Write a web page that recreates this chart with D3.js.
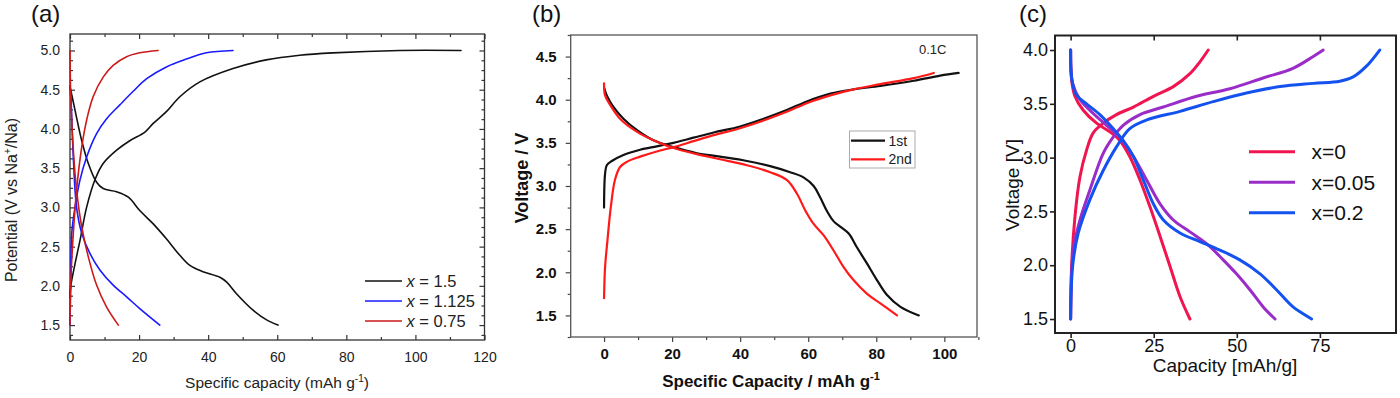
<!DOCTYPE html>
<html>
<head>
<meta charset="utf-8">
<script src="https://cdn.jsdelivr.net/npm/d3@7"></script>
<style>
  body { margin: 0; background: #fff; }
  text { font-family: Arial, "Liberation Sans", sans-serif; }
</style>
</head>
<body>
<script>
// ---- panel (a) data: [capacity mAh/g, potential V] ----
var aLabels = ["1.5", "1.125", "0.75"];
var aColors = ["#111111", "#1a1aff", "#cc1a1a"];
var aCharge15 = [[0,1.85],[0.2,1.99],[1.45,2.28],[2.9,2.58],[4.8,3.0],[7.2,3.35],[9.6,3.56],[13.5,3.73],[17.3,3.85],[21.7,3.96],[24.1,4.07],[27.9,4.22],[31.8,4.41],[37.6,4.6],[47.2,4.77],[56.8,4.88],[66.5,4.94],[76.1,4.97],[95.4,5.0],[113.2,5.0]];
var aDisch15 = [[0.1,4.52],[1.45,4.24],[3.4,3.85],[5.3,3.56],[7.7,3.32],[9.6,3.24],[13.5,3.2],[16.9,3.13],[20.2,2.96],[24.1,2.79],[27.9,2.6],[31.8,2.39],[34.7,2.26],[38.5,2.18],[43.4,2.11],[45.3,2.05],[48.2,1.9],[53,1.69],[56.8,1.57],[60.2,1.5]];
var aCharge1125 = [[0,1.5],[0.2,2.03],[0.5,2.67],[1.45,3.0],[2.9,3.35],[4.8,3.64],[7.7,3.94],[10.6,4.13],[14.5,4.31],[18.3,4.48],[22.2,4.64],[27.9,4.79],[33.7,4.89],[39.5,4.97],[47.2,5.0]];
var aDisch1125 = [[0,4.55],[0.3,4.36],[0.96,3.64],[1.9,3.0],[3.4,2.67],[5.8,2.41],[8.7,2.2],[12.5,2.01],[16.4,1.86],[20.2,1.71],[26,1.5]];
var aCharge075 = [[0,1.5],[0.2,2.03],[0.96,2.67],[1.9,3.22],[3.4,3.77],[4.8,4.11],[6.7,4.41],[9.6,4.66],[12.5,4.81],[16.4,4.92],[20.2,4.97],[25.5,5.0]];
var aDisch075 = [[0,5.0],[0.25,4.36],[0.96,3.73],[1.9,3.22],[3.4,2.75],[5.3,2.37],[7.7,2.01],[10.6,1.73],[14,1.5]];
var aXTicks = [0, 20, 40, 60, 80, 100, 120];
var aYTicks = [1.5, 2.0, 2.5, 3.0, 3.5, 4.0, 4.5, 5.0];

// ---- panel (b) data ----
var bLabels = ["1st", "2nd"];
var bColors = ["#111111", "#ff1a1a"];
var bCharge1 = [[0,2.75],[0.3,3.14],[0.8,3.24],[2.3,3.29],[5.7,3.36],[10.6,3.42],[15.5,3.46],[20.4,3.5],[26.3,3.56],[32.2,3.62],[40,3.69],[46.9,3.78],[53.7,3.88],[59.6,3.98],[66.5,4.07],[73.3,4.12],[81.2,4.16],[91,4.22],[98.8,4.28],[104.2,4.31]];
var bDisch1 = [[0.1,4.13],[0.8,4.05],[2.7,3.92],[5.7,3.78],[9.6,3.65],[14.5,3.53],[20.4,3.45],[27.3,3.38],[34.1,3.34],[42,3.29],[48.8,3.23],[54.7,3.16],[58.6,3.1],[61.6,3.0],[63.5,2.87],[65.5,2.71],[67.5,2.59],[69.4,2.53],[71.9,2.45],[74.3,2.29],[77.3,2.1],[80.2,1.91],[83.1,1.74],[87.1,1.6],[92.5,1.5]];
var bCharge2 = [[0,1.7],[0.3,2.06],[1.0,2.37],[2.0,2.76],[3.2,3.07],[4.7,3.22],[6.7,3.28],[10.6,3.34],[15.5,3.4],[20.4,3.45],[26.3,3.52],[32.2,3.59],[40,3.67],[46.9,3.76],[53.7,3.86],[59.6,3.96],[66.5,4.05],[73.3,4.12],[81.2,4.18],[91,4.25],[96.9,4.31]];
var bDisch2 = [[0,4.19],[0.3,4.05],[1.8,3.94],[4.7,3.78],[9.6,3.63],[14.5,3.53],[20.4,3.44],[27.3,3.37],[34.1,3.31],[42,3.24],[48.8,3.16],[53.7,3.07],[56.7,2.91],[59.1,2.72],[61.6,2.56],[64.5,2.43],[67.5,2.25],[70.4,2.06],[73.3,1.91],[77.3,1.75],[81.2,1.64],[86.1,1.5]];
var bXTicks = [0, 20, 40, 60, 80, 100];
var bYTicks = [1.5, 2.0, 2.5, 3.0, 3.5, 4.0, 4.5];

// ---- panel (c) data ----
var cLabels = ["x=0", "x=0.05", "x=0.2"];
var cColors = ["#f01450", "#9a2cc8", "#1452f0"];
var cCharge0 = [[0,1.5],[0.3,1.99],[1.3,2.45],[2.8,2.82],[4.8,3.07],[6.8,3.23],[9.8,3.32],[13.8,3.4],[18.9,3.47],[24.9,3.57],[30.9,3.66],[35.9,3.78],[38.9,3.89],[41.4,4.0]];
var cDisch0 = [[0,4.0],[0.3,3.72],[1.3,3.57],[3.8,3.44],[7.8,3.32],[11.8,3.24],[14.8,3.16],[17.8,3.01],[20.9,2.79],[23.9,2.54],[26.9,2.27],[29.9,1.99],[32.9,1.71],[35.9,1.5]];
var cCharge005 = [[0,1.5],[0.8,2.14],[2.8,2.42],[5.8,2.7],[9.8,3.04],[12.8,3.19],[15.8,3.3],[20.9,3.4],[27.9,3.47],[37.9,3.57],[47.9,3.64],[57.9,3.74],[66.9,3.83],[73,3.94],[76,4.0]];
var cDisch005 = [[0,4.0],[0.6,3.69],[2.8,3.54],[6.8,3.41],[10.8,3.3],[14.8,3.19],[18.9,3.01],[22.9,2.79],[26.9,2.57],[30.9,2.42],[35.9,2.31],[40.9,2.2],[45.9,2.05],[49.9,1.92],[54,1.77],[58,1.61],[61.5,1.5]];
var cCharge02 = [[0,1.5],[0.6,1.99],[2.3,2.3],[5.8,2.61],[9.8,2.88],[13.8,3.1],[17.8,3.27],[22.9,3.35],[32.9,3.43],[42.9,3.52],[52.9,3.6],[63,3.66],[73,3.69],[81,3.71],[85,3.75],[89,3.85],[93,4.0]];
var cDisch02 = [[0,4.0],[0.4,3.72],[1.8,3.58],[4.8,3.5],[8.8,3.4],[12.8,3.27],[15.8,3.16],[18.9,3.01],[21.9,2.79],[24.9,2.57],[27.9,2.42],[32.9,2.3],[38.9,2.22],[44.9,2.14],[50.9,2.05],[57,1.92],[62,1.77],[67,1.61],[72.5,1.5]];
var cXTicks = [0, 25, 50, 75];
var cYTicks = [1.5, 2.0, 2.5, 3.0, 3.5, 4.0];

var svg = d3.select("body").append("svg")
  .attr("width", 1400)
  .attr("height", 398);

function drawCurve(g, x, y, data, color, width) {
  var line = d3.line()
    .x(function(d) { return x(d[0]); })
    .y(function(d) { return y(d[1]); })
    .curve(d3.curveCatmullRom.alpha(0.5));
  g.append("path")
    .attr("d", line(data))
    .attr("fill", "none")
    .attr("stroke", color)
    .attr("stroke-width", width)
    .attr("stroke-linejoin", "round")
    .attr("stroke-linecap", "round");
}

// one axis call, domain line removed, styled ticks/labels
function addAxis(g, axis, tx, ty, opts) {
  var a = g.append("g")
    .attr("transform", "translate(" + tx + "," + ty + ")")
    .call(axis);
  a.select(".domain").remove();
  a.selectAll(".tick line").attr("stroke", opts.stroke).attr("stroke-width", opts.width);
  a.selectAll(".tick text")
    .attr("fill", opts.color || "#111")
    .style("font-size", opts.size + "px")
    .style("font-weight", opts.weight || "normal");
  return a;
}

function minors(lo, hi, step, majors) {
  return d3.range(lo, hi + 1e-9, step).filter(function(v) {
    return !majors.some(function(m) { return Math.abs(m - v) < 1e-6; });
  });
}

function fmt1(d) { return d3.format(".1f")(d); }

// ================= panel (a) =================
(function() {
  var x = d3.scaleLinear().domain([0, 120]).range([70, 484.5]);
  var y = d3.scaleLinear().domain([1.31, 5.21]).range([340, 34]);
  var g = svg.append("g");
  var st = { stroke: "#333", width: 1.2, size: 14, color: "#222" };

  // bottom
  addAxis(g, d3.axisBottom(x).tickValues(aXTicks).tickSizeInner(-5).tickSizeOuter(0).tickPadding(12).tickFormat(d3.format("d")), 0, 340, st);
  addAxis(g, d3.axisBottom(x).tickValues(minors(0, 120, 10, aXTicks)).tickSizeInner(-3).tickSizeOuter(0).tickFormat(""), 0, 340, st);
  // top
  addAxis(g, d3.axisTop(x).tickValues(aXTicks).tickSizeInner(-5).tickSizeOuter(0).tickFormat(""), 0, 34, st);
  addAxis(g, d3.axisTop(x).tickValues(minors(0, 120, 10, aXTicks)).tickSizeInner(-3).tickSizeOuter(0).tickFormat(""), 0, 34, st);
  // left
  addAxis(g, d3.axisLeft(y).tickValues(aYTicks).tickSizeInner(-5).tickSizeOuter(0).tickPadding(10).tickFormat(fmt1), 70, 0, st);
  addAxis(g, d3.axisLeft(y).tickValues(minors(1.375, 5.125, 0.125, aYTicks)).tickSizeInner(-3).tickSizeOuter(0).tickFormat(""), 70, 0, st);
  // right
  addAxis(g, d3.axisRight(y).tickValues(aYTicks).tickSizeInner(-5).tickSizeOuter(0).tickFormat(""), 484.5, 0, st);
  addAxis(g, d3.axisRight(y).tickValues(minors(1.375, 5.125, 0.125, aYTicks)).tickSizeInner(-3).tickSizeOuter(0).tickFormat(""), 484.5, 0, st);

  g.append("rect").attr("x", 70).attr("y", 34).attr("width", 414.5).attr("height", 306)
    .attr("fill", "none").attr("stroke", "#333").attr("stroke-width", 1.3);

  var sets = [[aCharge15, aDisch15], [aCharge1125, aDisch1125], [aCharge075, aDisch075]];
  sets.forEach(function(s, i) {
    drawCurve(g, x, y, s[0], aColors[i], 1.6);
    drawCurve(g, x, y, s[1], aColors[i], 1.6);
  });

  // legend
  aLabels.forEach(function(lab, i) {
    var ly = 281 + i * 20;
    g.append("line").attr("x1", 365).attr("x2", 402).attr("y1", ly).attr("y2", ly)
      .attr("stroke", aColors[i]).attr("stroke-width", 1.6);
    var t = g.append("text").attr("x", 406.5).attr("y", ly + 6)
      .style("font-size", "16.5px").attr("fill", "#222");
    t.append("tspan").style("font-style", "italic").text("x");
    t.append("tspan").text(" = " + lab);
  });

  // axis titles
  var xt = g.append("text").attr("x", 277).attr("y", 388).attr("text-anchor", "middle")
    .style("font-size", "15.5px").attr("fill", "#222");
  xt.append("tspan").text("Specific capacity (mAh g");
  xt.append("tspan").attr("dy", -6).style("font-size", "10px").text("-1");
  xt.append("tspan").attr("dy", 6).text(")");

  var yt = g.append("text").attr("transform", "translate(17,200) rotate(-90)")
    .attr("text-anchor", "middle").style("font-size", "16px").attr("fill", "#222");
  yt.append("tspan").text("Potential (V vs Na");
  yt.append("tspan").attr("dy", -6).style("font-size", "10px").text("+");
  yt.append("tspan").attr("dy", 6).text("/Na)");

  g.append("text").attr("x", 31).attr("y", 22).style("font-size", "24px").attr("fill", "#111").text("(a)");
})();

// ================= panel (b) =================
(function() {
  var x = d3.scaleLinear().domain([-9.8, 109.6]).range([570.7, 977]);
  var y = d3.scaleLinear().domain([1.25, 4.75]).range([337, 35]);
  var g = svg.append("g");
  var st = { stroke: "#444", width: 1.2, size: 15, weight: "bold", color: "#111" };

  addAxis(g, d3.axisBottom(x).tickValues(bXTicks).tickSizeInner(5).tickSizeOuter(0).tickPadding(6).tickFormat(d3.format("d")), 0, 337, st);
  addAxis(g, d3.axisBottom(x).tickValues(minors(-10, 110, 10, bXTicks).filter(function(v) { return v > -9.8; })).tickSizeInner(3).tickSizeOuter(0).tickFormat(""), 0, 337, st);
  addAxis(g, d3.axisLeft(y).tickValues(bYTicks).tickSizeInner(5).tickSizeOuter(0).tickPadding(9).tickFormat(fmt1), 570.7, 0, st);
  addAxis(g, d3.axisLeft(y).tickValues(minors(1.25, 4.75, 0.25, bYTicks)).tickSizeInner(3).tickSizeOuter(0).tickFormat(""), 570.7, 0, st);

  g.append("rect").attr("x", 570.7).attr("y", 35).attr("width", 406.3).attr("height", 302)
    .attr("fill", "none").attr("stroke", "#555").attr("stroke-width", 1.3);

  drawCurve(g, x, y, bCharge1, bColors[0], 2.2);
  drawCurve(g, x, y, bDisch1, bColors[0], 2.2);
  drawCurve(g, x, y, bCharge2, bColors[1], 2.2);
  drawCurve(g, x, y, bDisch2, bColors[1], 2.2);

  // legend box
  g.append("rect").attr("x", 849.5).attr("y", 131).attr("width", 65.5).attr("height", 37)
    .attr("fill", "#fff").attr("stroke", "#aaa").attr("stroke-width", 1);
  bLabels.forEach(function(lab, i) {
    var ly = 140.7 + i * 18.6;
    g.append("line").attr("x1", 851).attr("x2", 885).attr("y1", ly).attr("y2", ly)
      .attr("stroke", bColors[i]).attr("stroke-width", 2.2);
    g.append("text").attr("x", 888.5).attr("y", ly + 5).style("font-size", "14px")
      .attr("fill", "#222").text(lab);
  });

  g.append("text").attr("x", 919).attr("y", 54).style("font-size", "13px").attr("fill", "#222").text("0.1C");

  var xt = g.append("text").attr("x", 771).attr("y", 387).attr("text-anchor", "middle")
    .style("font-size", "17px").style("font-weight", "bold").attr("fill", "#111");
  xt.append("tspan").text("Specific Capacity / mAh g");
  xt.append("tspan").attr("dy", -7).style("font-size", "11px").text("-1");

  g.append("text").attr("transform", "translate(528,178) rotate(-90)")
    .attr("text-anchor", "middle").style("font-size", "18px").style("font-weight", "bold")
    .attr("fill", "#111").text("Voltage / V");

  g.append("text").attr("x", 532).attr("y", 22).style("font-size", "24px").attr("fill", "#111").text("(b)");
})();

// ================= panel (c) =================
(function() {
  var x = d3.scaleLinear().domain([-4.7, 97.9]).range([1055, 1396]);
  var y = d3.scaleLinear().domain([1.37, 4.135]).range([333, 35.5]);
  var g = svg.append("g");
  var st = { stroke: "#222", width: 1.6, size: 18, color: "#111" };

  addAxis(g, d3.axisBottom(x).tickValues(cXTicks).tickSizeInner(5).tickSizeOuter(0).tickPadding(1).tickFormat(d3.format("d")), 0, 333, st);
  addAxis(g, d3.axisTop(x).tickValues(cXTicks).tickSizeInner(-5).tickSizeOuter(0).tickFormat(""), 0, 35.5, st);
  addAxis(g, d3.axisLeft(y).tickValues(cYTicks).tickSizeInner(5).tickSizeOuter(0).tickPadding(2).tickFormat(fmt1), 1055, 0, st);

  g.append("rect").attr("x", 1055).attr("y", 35.5).attr("width", 341).attr("height", 297.5)
    .attr("fill", "none").attr("stroke", "#222").attr("stroke-width", 2);

  var sets = [[cCharge0, cDisch0], [cCharge005, cDisch005], [cCharge02, cDisch02]];
  sets.forEach(function(s, i) {
    drawCurve(g, x, y, s[0], cColors[i], 3);
    drawCurve(g, x, y, s[1], cColors[i], 3);
  });

  cLabels.forEach(function(lab, i) {
    var ly = 151.7 + i * 30.5;
    g.append("line").attr("x1", 1249).attr("x2", 1295).attr("y1", ly).attr("y2", ly)
      .attr("stroke", cColors[i]).attr("stroke-width", 3);
    g.append("text").attr("x", 1311.5).attr("y", ly + 7.5).style("font-size", "21px")
      .attr("fill", "#111").text(lab);
  });

  g.append("text").attr("x", 1225).attr("y", 372).attr("text-anchor", "middle")
    .style("font-size", "19px").attr("fill", "#111").text("Capacity [mAh/g]");
  g.append("text").attr("transform", "translate(1019,185) rotate(-90)")
    .attr("text-anchor", "middle").style("font-size", "19px").attr("fill", "#111").text("Voltage [V]");

  g.append("text").attr("x", 1019).attr("y", 22).style("font-size", "24px").attr("fill", "#111").text("(c)");
})();
</script>
</body>
</html>
